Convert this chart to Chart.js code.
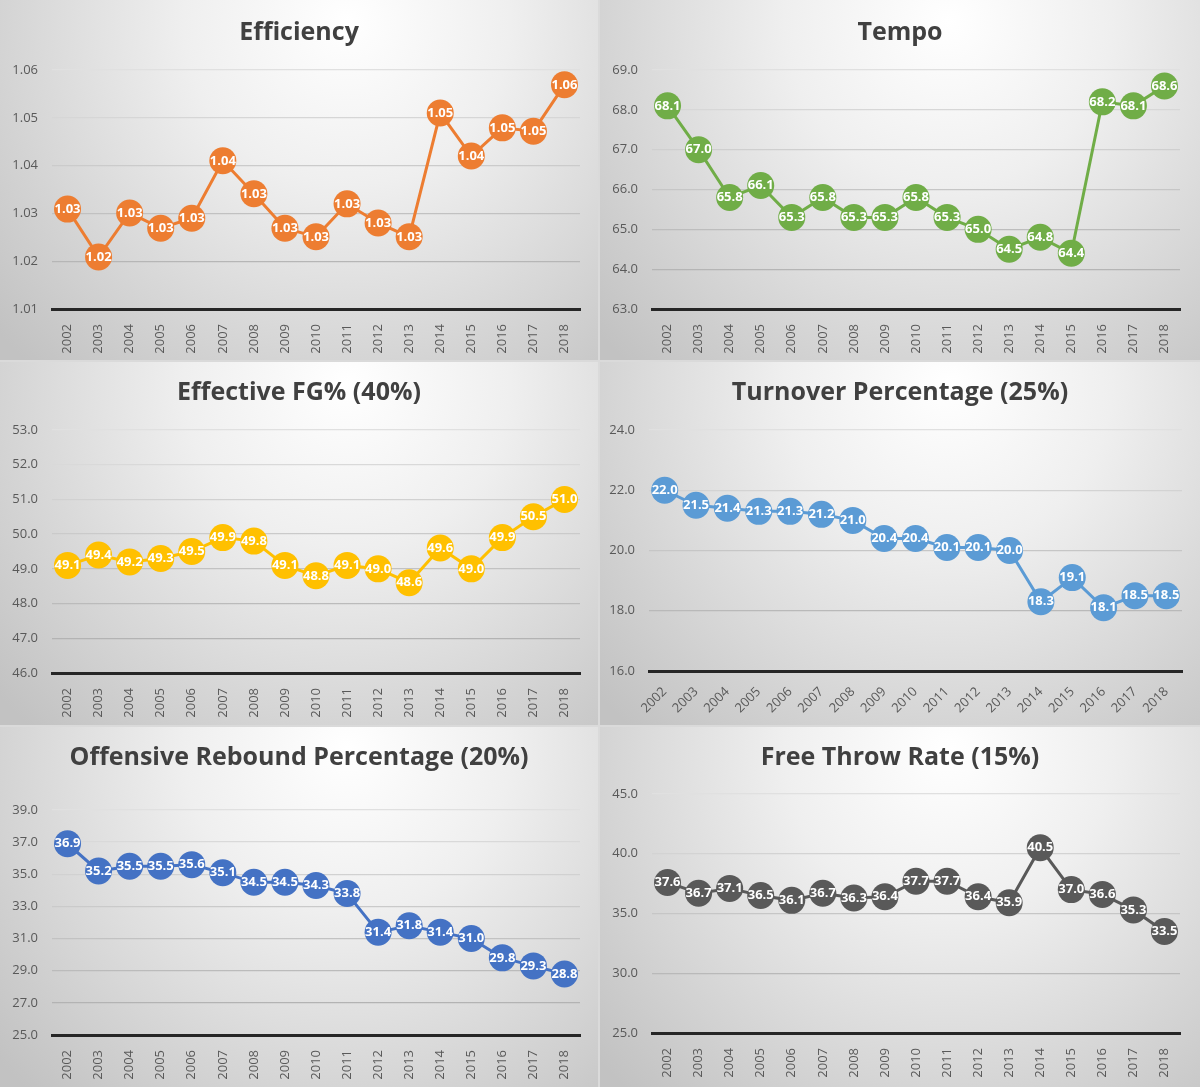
<!DOCTYPE html>
<html><head><meta charset="utf-8">
<script src="https://cdn.jsdelivr.net/npm/chart.js@4.4.0/dist/chart.umd.min.js"></script>
<style>
html,body{margin:0;padding:0}
body{width:1200px;height:1087px;background:#dadada;position:relative;overflow:hidden;font-family:'Open Sans',sans-serif}
.p{position:absolute}
.p canvas{display:block}
</style></head><body>
<div class="p" style="left:0;top:0;width:598px;height:360px"><canvas id="c1"></canvas></div>
<div class="p" style="left:600px;top:0;width:600px;height:360px"><canvas id="c2"></canvas></div>
<div class="p" style="left:0;top:362px;width:598px;height:363px"><canvas id="c3"></canvas></div>
<div class="p" style="left:600px;top:362px;width:600px;height:363px"><canvas id="c4"></canvas></div>
<div class="p" style="left:0;top:727px;width:598px;height:360px"><canvas id="c5"></canvas></div>
<div class="p" style="left:600px;top:727px;width:600px;height:360px"><canvas id="c6"></canvas></div>
<script>
// ---------- data ----------
const years = ['2002','2003','2004','2005','2006','2007','2008','2009','2010','2011','2012','2013','2014','2015','2016','2017','2018'];
const efficiency = [1.0309,1.0209,1.0301,1.0269,1.029,1.041,1.0341,1.0269,1.0251,1.032,1.028,1.0251,1.051,1.042,1.0479,1.0472,1.0569];
const tempo = [68.1,67.0,65.8,66.1,65.3,65.8,65.3,65.3,65.8,65.3,65.0,64.5,64.8,64.4,68.2,68.1,68.6];
const effectiveFG = [49.1,49.4,49.2,49.3,49.5,49.9,49.8,49.1,48.8,49.1,49.0,48.6,49.6,49.0,49.9,50.5,51.0];
const turnoverPct = [22.0,21.5,21.4,21.3,21.3,21.2,21.0,20.4,20.4,20.1,20.1,20.0,18.3,19.1,18.1,18.5,18.5];
const offRebPct = [36.9,35.2,35.5,35.5,35.6,35.1,34.5,34.5,34.3,33.8,31.4,31.8,31.4,31.0,29.8,29.3,28.8];
const freeThrowRate = [37.6,36.7,37.1,36.5,36.1,36.7,36.3,36.4,37.7,37.7,36.4,35.9,40.5,37.0,36.6,35.3,33.5];
// y-axis ticks: [min, max, step]
const effTicks = [1.01, 1.06, 0.01];
const tempoTicks = [63, 69, 1];
const efgTicks = [46, 53, 1];
const tovTicks = [16, 24, 2];
const orbTicks = [25, 39, 2];
const ftrTicks = [25, 45, 5];

// ---------- plugins ----------
const bgPlugin = {
  id: 'bg',
  beforeDraw(chart) {
    const {ctx, width, height} = chart;
    const g = ctx.createRadialGradient(width*0.58, height*0.06, 0, width*0.58, height*0.06, width*0.78);
    g.addColorStop(0, '#ffffff');
    g.addColorStop(0.35, '#efefef');
    g.addColorStop(1, '#c2c2c2');
    ctx.save();
    ctx.fillStyle = g;
    ctx.fillRect(0, 0, width, height);
    ctx.restore();
  }
};
const titlePlugin = {
  id: 'ttl',
  afterDraw(chart, args, opts) {
    const ctx = chart.ctx;
    ctx.save();
    ctx.font = 'bold 25px "Open Sans"';
    ctx.fillStyle = '#404040';
    ctx.textAlign = 'center';
    ctx.textBaseline = 'middle';
    ctx.fillText(opts.text, chart.width/2, opts.y);
    ctx.restore();
  }
};
const labelPlugin = {
  id: 'lbl',
  afterDatasetsDraw(chart, args, opts) {
    const ctx = chart.ctx;
    const meta = chart.getDatasetMeta(0);
    const data = chart.data.datasets[0].data;
    ctx.save();
    ctx.font = 'bold 13px "Open Sans"';
    ctx.fillStyle = '#ffffff';
    ctx.textAlign = 'center';
    ctx.textBaseline = 'middle';
    meta.data.forEach((pt, i) => {
      ctx.fillText(data[i].toFixed(opts.decimals), pt.x, pt.y);
    });
    ctx.restore();
  }
};

function makeChart(id, title, values, ticks, color, L) {
  const [mn, mx, st] = ticks;
  new Chart(document.getElementById(id), {
    type: 'line',
    data: { labels: years, datasets: [{
      data: values, borderColor: color, backgroundColor: color,
      borderWidth: 3, pointRadius: 13.5, pointBorderWidth: 0,
      pointBackgroundColor: color, tension: 0, clip: false
    }]},
    options: {
      responsive: true, maintainAspectRatio: false, animation: false, events: [],
      layout: { padding: { top: L.top, right: L.right, bottom: 0, left: 0 } },
      plugins: {
        legend: { display: false }, tooltip: { enabled: false },
        ttl: { text: title, y: L.titleY },
        lbl: { decimals: L.dec }
      },
      scales: {
        x: {
          offset: true,
          grid: { display: false },
          border: { display: true, color: '#262626', width: 3 },
          ticks: { autoSkip: false, minRotation: L.rot, maxRotation: L.rot, padding: L.xPad,
                   color: '#595959', font: { family: 'Open Sans', size: 13 } },
          afterFit: s => { s.height = L.xH; }
        },
        y: {
          min: mn, max: mx,
          grid: { drawTicks: false, lineWidth: 1.3,
                  color: c => { const t = (c.tick.value - mn) / (mx - mn); const v = Math.round(172 + 52 * t); return `rgb(${v},${v},${v})`; } },
          border: { display: false },
          ticks: { stepSize: st, padding: 14, color: '#595959', font: { family: 'Open Sans', size: 13 },
                   callback: v => Number(v).toFixed(L.dec) },
          afterFit: s => { s.width = L.yW; }
        }
      }
    },
    plugins: [bgPlugin, titlePlugin, labelPlugin]
  });
}

makeChart('c1', 'Efficiency', efficiency, effTicks, '#ED7D31', {top:70, right:18, xH:51, yW:52, titleY:33, rot:90, xPad:7, dec:2});
makeChart('c2', 'Tempo', tempo, tempoTicks, '#70AD47', {top:70, right:20, xH:51, yW:52, titleY:33, rot:90, xPad:7, dec:1});
makeChart('c3', 'Effective FG% (40%)', effectiveFG, efgTicks, '#FFC000', {top:68, right:18, xH:52, yW:52, titleY:31, rot:90, xPad:7, dec:1});
makeChart('c4', 'Turnover Percentage (25%)', turnoverPct, tovTicks, '#5B9BD5', {top:68, right:18, xH:54, yW:49, titleY:31, rot:45, xPad:5, dec:1});
makeChart('c5', 'Offensive Rebound Percentage (20%)', offRebPct, orbTicks, '#4472C4', {top:83, right:18, xH:52, yW:52, titleY:31, rot:90, xPad:7, dec:1});
makeChart('c6', 'Free Throw Rate (15%)', freeThrowRate, ftrTicks, '#595959', {top:67, right:20, xH:54, yW:52, titleY:31, rot:90, xPad:7, dec:1});
</script>
</body></html>
